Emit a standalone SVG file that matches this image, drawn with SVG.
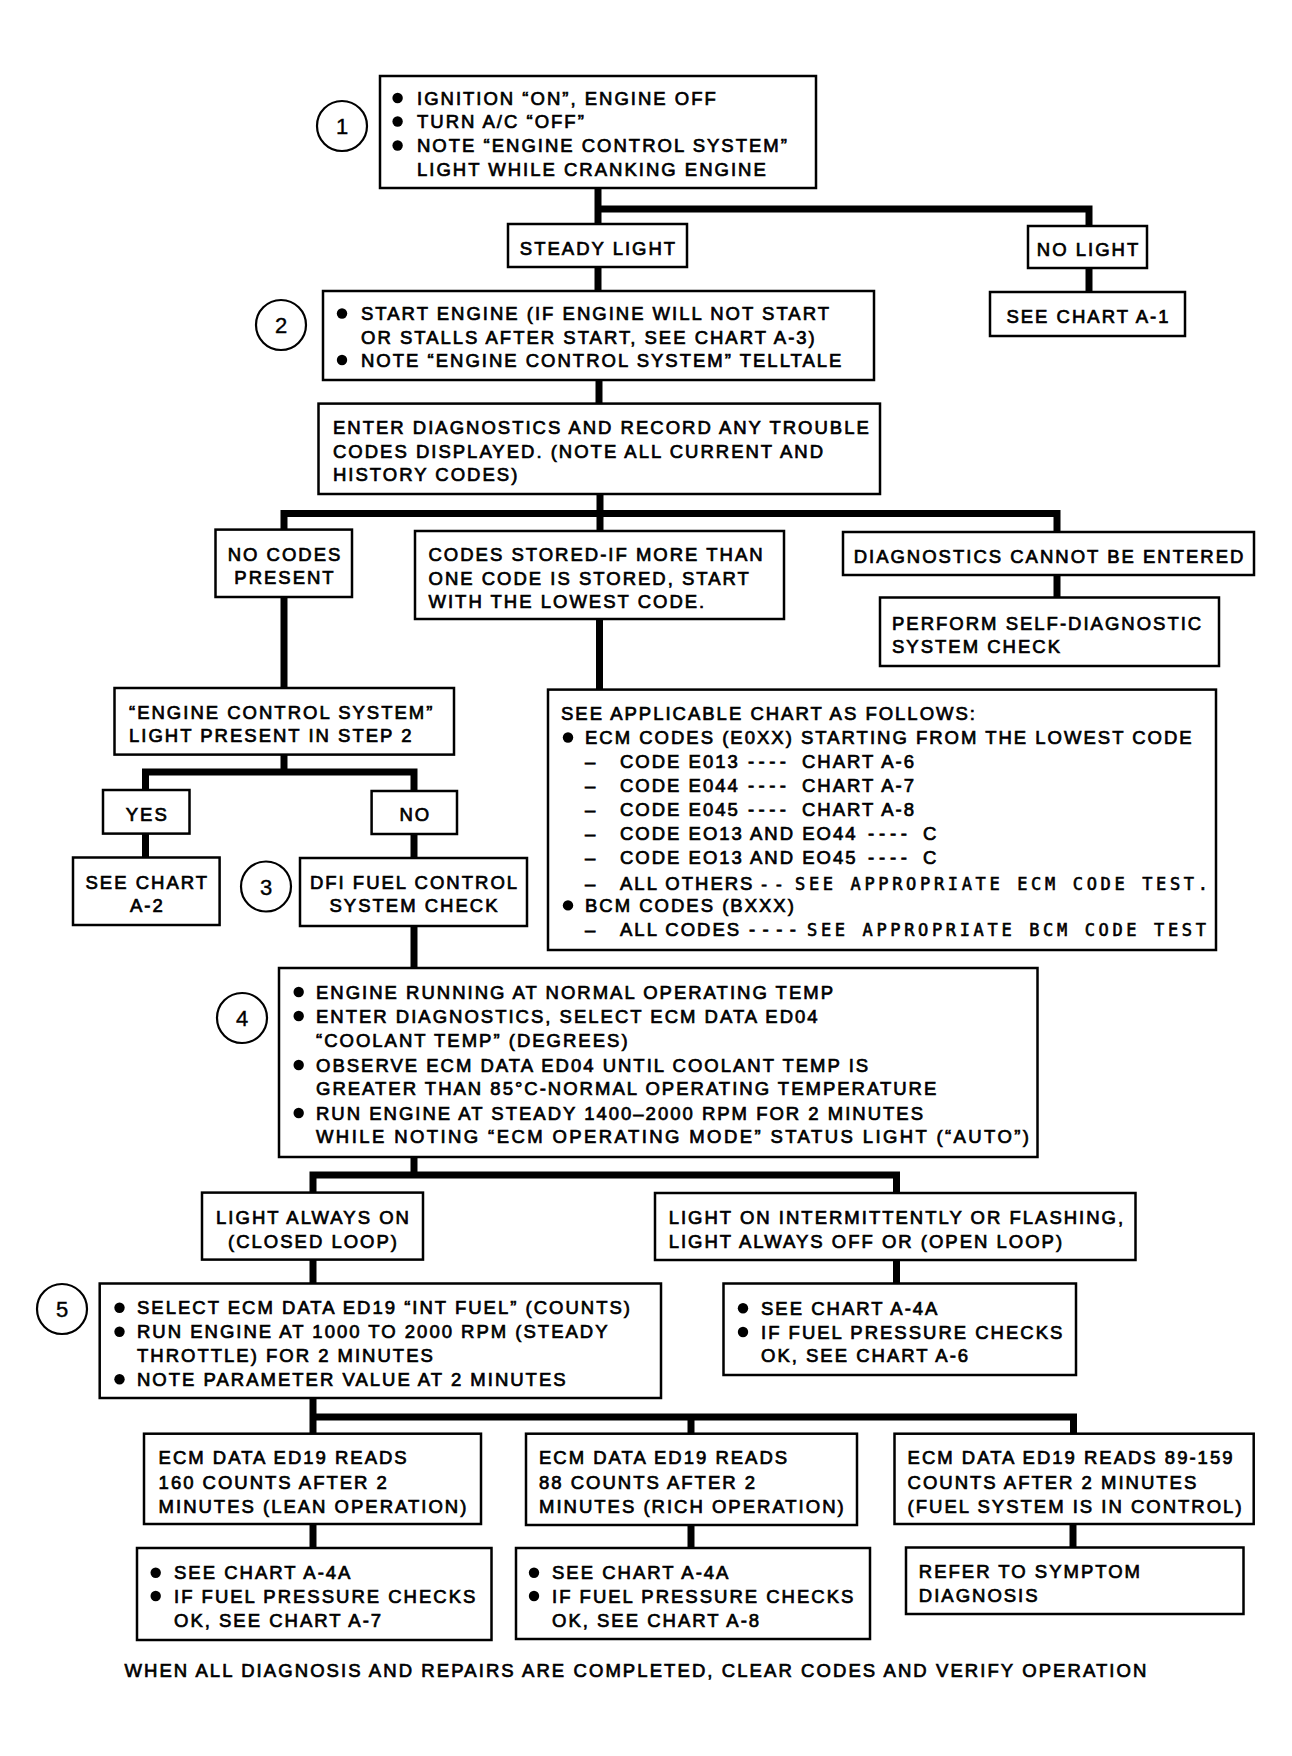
<svg xmlns="http://www.w3.org/2000/svg" width="1292" height="1756" viewBox="0 0 1292 1756">
<style>
.bg{fill:#fff}
.box{fill:#fff;stroke:#000;stroke-width:2.5}
.num{fill:#fff;stroke:#000;stroke-width:2.2}
.conn{fill:none;stroke:#000;stroke-width:7;stroke-linejoin:miter;stroke-linecap:butt}
.t{font-family:"Liberation Sans",Arial,Helvetica,sans-serif;font-size:18.5px;letter-spacing:2px;fill:#000;stroke:#000;stroke-width:0.7}
.c{text-anchor:middle}
.m{font-family:"DejaVu Sans Mono","Liberation Mono",monospace;font-size:17px;fill:#000;stroke:#000;stroke-width:0.6}
.d{font-family:"Liberation Sans",Arial,Helvetica,sans-serif;font-size:22px;fill:#000;stroke:#000;stroke-width:0.4;text-anchor:middle}
.b{fill:#000}
</style>
<rect class="bg" x="0" y="0" width="1292" height="1756"/>
<g id="connectors">
<path class="conn" d="M598 188 V224"/>
<path class="conn" d="M598 209 H1089 V226"/>
<path class="conn" d="M1089 268 V292"/>
<path class="conn" d="M598 267 V291"/>
<path class="conn" d="M599 380 V403.6"/>
<path class="conn" d="M600 494 V531"/>
<path class="conn" d="M284 529.6 V513.6 H1057 V532"/>
<path class="conn" d="M1057 575 V597.5"/>
<path class="conn" d="M284 597 V688"/>
<path class="conn" d="M599.5 619 V689.6"/>
<path class="conn" d="M284 754.6 V772"/>
<path class="conn" d="M145.5 790 V772 H414 V791"/>
<path class="conn" d="M145.5 833.6 V857.5"/>
<path class="conn" d="M414 834 V858"/>
<path class="conn" d="M414 926 V968"/>
<path class="conn" d="M414 1157 V1175"/>
<path class="conn" d="M313 1192.6 V1175 H896.5 V1193"/>
<path class="conn" d="M313 1259.6 V1283.5"/>
<path class="conn" d="M896.5 1260 V1283.5"/>
<path class="conn" d="M313 1398 V1433.7"/>
<path class="conn" d="M313 1417 H1073.5 V1433.7"/>
<path class="conn" d="M691 1417 V1433.7"/>
<path class="conn" d="M313 1524 V1548"/>
<path class="conn" d="M691 1525 V1548"/>
<path class="conn" d="M1073 1524 V1547.5"/>
</g>

<g id="step1">
<circle class="num" cx="342" cy="126" r="25"/>
<text class="d" x="342" y="134">1</text>
</g>
<g id="n1">
<rect class="box" x="380" y="76" width="436" height="112"/>
<circle class="b" cx="397.6" cy="98" r="5.2"/>
<circle class="b" cx="397.6" cy="121.5" r="5.2"/>
<circle class="b" cx="397.6" cy="145.5" r="5.2"/>
<text class="t" x="417" y="104.5">IGNITION “ON”, ENGINE OFF</text>
<text class="t" x="417" y="128">TURN A/C “OFF”</text>
<text class="t" x="417" y="152">NOTE “ENGINE CONTROL SYSTEM”</text>
<text class="t" x="417" y="175.5">LIGHT WHILE CRANKING ENGINE</text>
</g>
<g id="n-steady">
<rect class="box" x="508" y="224" width="179" height="43"/>
<text class="t c" x="598.5" y="254.5">STEADY LIGHT</text>
</g>
<g id="n-nolight">
<rect class="box" x="1028" y="226" width="119" height="42"/>
<text class="t c" x="1088.5" y="256">NO LIGHT</text>
</g>
<g id="n-a1">
<rect class="box" x="990" y="292" width="195" height="44"/>
<text class="t c" x="1088.5" y="322.5">SEE CHART A-1</text>
</g>

<g id="step2">
<circle class="num" cx="281" cy="325" r="25"/>
<text class="d" x="281" y="333">2</text>
</g>
<g id="n2">
<rect class="box" x="323" y="291" width="551" height="89"/>
<circle class="b" cx="342" cy="313.5" r="5.2"/>
<circle class="b" cx="342" cy="360" r="5.2"/>
<text class="t" x="361" y="320">START ENGINE (IF ENGINE WILL NOT START</text>
<text class="t" x="361" y="343.5">OR STALLS AFTER START, SEE CHART A-3)</text>
<text class="t" x="361" y="366.5">NOTE “ENGINE CONTROL SYSTEM” TELLTALE</text>
</g>
<g id="n-enter">
<rect class="box" x="318.5" y="403.6" width="561.5" height="90.4"/>
<text class="t" x="333" y="434">ENTER DIAGNOSTICS AND RECORD ANY TROUBLE</text>
<text class="t" x="333" y="457.5">CODES DISPLAYED. (NOTE ALL CURRENT AND</text>
<text class="t" x="333" y="481">HISTORY CODES)</text>
</g>
<g id="n-nocodes">
<rect class="box" x="215.5" y="529.6" width="136.5" height="67.4"/>
<text class="t c" x="285" y="560.5">NO CODES</text>
<text class="t c" x="285" y="583.5">PRESENT</text>
</g>
<g id="n-stored">
<rect class="box" x="415" y="531" width="369" height="88"/>
<text class="t" x="428.5" y="561">CODES STORED-IF MORE THAN</text>
<text class="t" x="428.5" y="584.5">ONE CODE IS STORED, START</text>
<text class="t" x="428.5" y="607.5">WITH THE LOWEST CODE.</text>
</g>
<g id="n-cannot">
<rect class="box" x="843" y="532" width="411" height="43"/>
<text class="t c" x="1049.5" y="562.5">DIAGNOSTICS CANNOT BE ENTERED</text>
</g>
<g id="n-perform">
<rect class="box" x="880" y="597.5" width="339" height="68.5"/>
<text class="t" x="892" y="629.5">PERFORM SELF-DIAGNOSTIC</text>
<text class="t" x="892" y="653">SYSTEM CHECK</text>
</g>
<g id="n-ecs">
<rect class="box" x="114.5" y="688" width="339.5" height="66.6"/>
<text class="t" x="129" y="718.6">“ENGINE CONTROL SYSTEM”</text>
<text class="t" x="129" y="742">LIGHT PRESENT IN STEP 2</text>
</g>
<g id="n-yes">
<rect class="box" x="103" y="790" width="86.5" height="43.6"/>
<text class="t c" x="147.3" y="820.6">YES</text>
</g>
<g id="n-no">
<rect class="box" x="371.6" y="791" width="85.4" height="43"/>
<text class="t c" x="415.3" y="821">NO</text>
</g>
<g id="n-a2">
<rect class="box" x="73" y="857.5" width="146.6" height="67.5"/>
<text class="t c" x="147.3" y="888.6">SEE CHART</text>
<text class="t c" x="147.3" y="912.3">A-2</text>
</g>
<g id="step3">
<circle class="num" cx="266" cy="886.5" r="25"/>
<text class="d" x="266" y="894.5">3</text>
</g>
<g id="n-dfi">
<rect class="box" x="300" y="858" width="227" height="68"/>
<text class="t c" x="414.5" y="888.6">DFI FUEL CONTROL</text>
<text class="t c" x="414.5" y="912.3">SYSTEM CHECK</text>
</g>
<g id="n-chart">
<rect class="box" x="548" y="689.6" width="668" height="260.4"/>
<text class="t" x="561" y="720">SEE APPLICABLE CHART AS FOLLOWS:</text>
<circle class="b" cx="568" cy="737.5" r="5.2"/>
<text class="t" x="585" y="744">ECM CODES (E0XX) STARTING FROM THE LOWEST CODE</text>
<text class="t" x="585" y="768">–</text>
<text class="t" x="620" y="768">CODE E013</text>
<text class="t" x="748" y="768" textLength="40">----</text>
<text class="t" x="802" y="768">CHART A-6</text>
<text class="t" x="585" y="792">–</text>
<text class="t" x="620" y="792">CODE E044</text>
<text class="t" x="748" y="792" textLength="40">----</text>
<text class="t" x="802" y="792">CHART A-7</text>
<text class="t" x="585" y="816">–</text>
<text class="t" x="620" y="816">CODE E045</text>
<text class="t" x="748" y="816" textLength="40">----</text>
<text class="t" x="802" y="816">CHART A-8</text>
<text class="t" x="585" y="840">–</text>
<text class="t" x="620" y="840">CODE EO13 AND EO44</text>
<text class="t" x="868" y="840" textLength="41">----</text>
<text class="t" x="923" y="840">C</text>
<text class="t" x="585" y="863.6">–</text>
<text class="t" x="620" y="863.6">CODE EO13 AND EO45</text>
<text class="t" x="868" y="863.6" textLength="41">----</text>
<text class="t" x="923" y="863.6">C</text>
<text class="t" x="585" y="889.5">–</text>
<text class="t" x="620" y="889.5">ALL OTHERS</text>
<text class="m" x="759" y="889.5" textLength="25">--</text>
<text class="m" x="795" y="889.5" textLength="413">SEE APPROPRIATE ECM CODE TEST.</text>
<circle class="b" cx="568" cy="905.4" r="5.2"/>
<text class="t" x="585" y="912">BCM CODES (BXXX)</text>
<text class="t" x="585" y="936">–</text>
<text class="t" x="620" y="936">ALL CODES</text>
<text class="t" x="749" y="936" textLength="49">----</text>
<text class="m" x="807" y="936" textLength="399">SEE APPROPRIATE BCM CODE TEST</text>
</g>

<g id="step4">
<circle class="num" cx="242" cy="1018" r="25"/>
<text class="d" x="242" y="1026">4</text>
</g>
<g id="n4">
<rect class="box" x="279" y="968" width="758.5" height="189"/>
<circle class="b" cx="298.7" cy="992" r="5.2"/>
<circle class="b" cx="298.7" cy="1016" r="5.2"/>
<circle class="b" cx="298.7" cy="1065" r="5.2"/>
<circle class="b" cx="298.7" cy="1113" r="5.2"/>
<text class="t" x="316" y="998.6">ENGINE RUNNING AT NORMAL OPERATING TEMP</text>
<text class="t" x="316" y="1022.6">ENTER DIAGNOSTICS, SELECT ECM DATA ED04</text>
<text class="t" x="316" y="1046.6">“COOLANT TEMP” (DEGREES)</text>
<text class="t" x="316" y="1071.6">OBSERVE ECM DATA ED04 UNTIL COOLANT TEMP IS</text>
<text class="t" x="316" y="1095">GREATER THAN 85°C-NORMAL OPERATING TEMPERATURE</text>
<text class="t" x="316" y="1119.6">RUN ENGINE AT STEADY 1400–2000 RPM FOR 2 MINUTES</text>
<text class="t" x="316" y="1143" textLength="715">WHILE NOTING “ECM OPERATING MODE” STATUS LIGHT (“AUTO”)</text>
</g>
<g id="n-lao">
<rect class="box" x="202" y="1192.6" width="221" height="67"/>
<text class="t c" x="313.5" y="1223.6">LIGHT ALWAYS ON</text>
<text class="t c" x="313.5" y="1248">(CLOSED LOOP)</text>
</g>
<g id="n-loi">
<rect class="box" x="655" y="1193" width="480.5" height="67"/>
<text class="t" x="668.7" y="1223.6">LIGHT ON INTERMITTENTLY OR FLASHING,</text>
<text class="t" x="668.7" y="1247.6">LIGHT ALWAYS OFF OR (OPEN LOOP)</text>
</g>
<g id="step5">
<circle class="num" cx="62" cy="1309" r="25"/>
<text class="d" x="62" y="1317">5</text>
</g>
<g id="n5">
<rect class="box" x="99.7" y="1283.5" width="561.3" height="114.5"/>
<circle class="b" cx="119.5" cy="1307.7" r="5.2"/>
<circle class="b" cx="119.5" cy="1331.7" r="5.2"/>
<circle class="b" cx="119.5" cy="1379.3" r="5.2"/>
<text class="t" x="137" y="1314.3">SELECT ECM DATA ED19 “INT FUEL” (COUNTS)</text>
<text class="t" x="137" y="1338.3">RUN ENGINE AT 1000 TO 2000 RPM (STEADY</text>
<text class="t" x="137" y="1362">THROTTLE) FOR 2 MINUTES</text>
<text class="t" x="137" y="1386">NOTE PARAMETER VALUE AT 2 MINUTES</text>
</g>
<g id="n-a4a-r">
<rect class="box" x="723.5" y="1283.5" width="352.5" height="91.5"/>
<circle class="b" cx="743" cy="1308.2" r="5.2"/>
<circle class="b" cx="743" cy="1332" r="5.2"/>
<text class="t" x="761" y="1314.8">SEE CHART A-4A</text>
<text class="t" x="761" y="1338.6">IF FUEL PRESSURE CHECKS</text>
<text class="t" x="761" y="1362">OK, SEE CHART A-6</text>
</g>
<g id="n-lean">
<rect class="box" x="144" y="1433.7" width="337" height="90.3"/>
<text class="t" x="158.6" y="1464">ECM DATA ED19 READS</text>
<text class="t" x="158.6" y="1488.6">160 COUNTS AFTER 2</text>
<text class="t" x="158.6" y="1512.5">MINUTES (LEAN OPERATION)</text>
</g>
<g id="n-rich">
<rect class="box" x="526" y="1433.7" width="331" height="91.3"/>
<text class="t" x="539" y="1464">ECM DATA ED19 READS</text>
<text class="t" x="539" y="1488.6">88 COUNTS AFTER 2</text>
<text class="t" x="539" y="1512.5">MINUTES (RICH OPERATION)</text>
</g>
<g id="n-control">
<rect class="box" x="894.5" y="1433.7" width="359.2" height="90.3"/>
<text class="t" x="907.6" y="1464">ECM DATA ED19 READS 89-159</text>
<text class="t" x="907.6" y="1488.6">COUNTS AFTER 2 MINUTES</text>
<text class="t" x="907.6" y="1512.5">(FUEL SYSTEM IS IN CONTROL)</text>
</g>
<g id="n-a4a-l">
<rect class="box" x="137" y="1548" width="354.5" height="92"/>
<circle class="b" cx="155.7" cy="1572.7" r="5.2"/>
<circle class="b" cx="155.7" cy="1596" r="5.2"/>
<text class="t" x="174" y="1579.3">SEE CHART A-4A</text>
<text class="t" x="174" y="1602.6">IF FUEL PRESSURE CHECKS</text>
<text class="t" x="174" y="1626.6">OK, SEE CHART A-7</text>
</g>
<g id="n-a4a-m">
<rect class="box" x="516" y="1548" width="354" height="91"/>
<circle class="b" cx="534" cy="1572.7" r="5.2"/>
<circle class="b" cx="534" cy="1596" r="5.2"/>
<text class="t" x="552" y="1579.3">SEE CHART A-4A</text>
<text class="t" x="552" y="1602.6">IF FUEL PRESSURE CHECKS</text>
<text class="t" x="552" y="1626.6">OK, SEE CHART A-8</text>
</g>
<g id="n-refer">
<rect class="box" x="906" y="1547.5" width="337.5" height="66.5"/>
<text class="t" x="918.8" y="1578">REFER TO SYMPTOM</text>
<text class="t" x="918.8" y="1601.6">DIAGNOSIS</text>
</g>
<g id="footer">
<text class="t" x="124.4" y="1677" textLength="1024">WHEN ALL DIAGNOSIS AND REPAIRS ARE COMPLETED, CLEAR CODES AND VERIFY OPERATION</text>
</g>
</svg>
